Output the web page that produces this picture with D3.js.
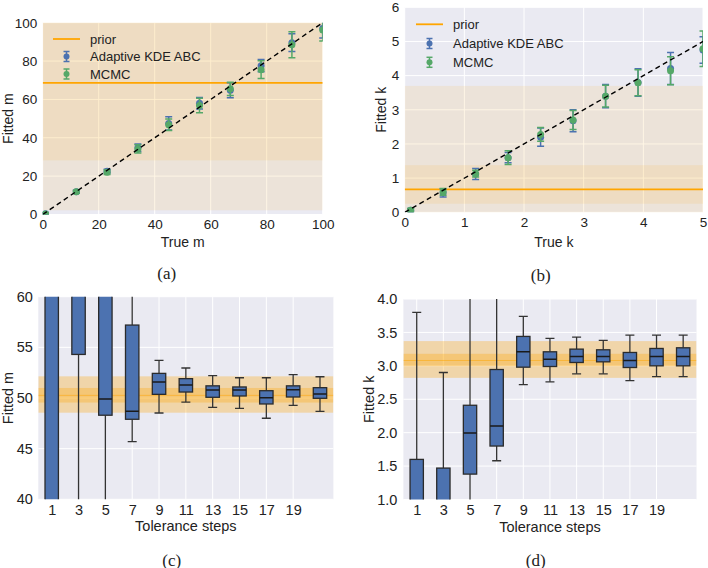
<!DOCTYPE html>
<html><head><meta charset="utf-8">
<script src="https://cdn.jsdelivr.net/npm/d3@7"></script>
<style>
body{margin:0;background:#fff}
text{font-family:"Liberation Sans",Arial,Helvetica,sans-serif;fill:#222}
</style>
</head><body>
<svg id="c" width="708" height="568"></svg>
<script>
// ---------- data ----------
const trueM = [1, 12, 23, 34, 45, 56, 67, 78, 89, 100];
const abcM = [0.4, 11.9, 22.6, 34.8, 47.5, 58.0, 64.8, 77.6, 89.6, 97.0];
const abcMErr = [0.6, 0.8, 1.0, 2.0, 3.5, 3.0, 3.9, 3.2, 4.6, 5.0];
const mcmcM = [0.3, 11.8, 22.0, 34.2, 46.8, 56.8, 65.5, 75.5, 88.5, 96.2];
const mcmcMErr = [0.6, 0.7, 1.2, 2.2, 3.0, 3.8, 3.4, 4.6, 6.8, 5.8];
const priorM = {mean: 68.6, inner: [28.2, 109], outer: [2.2, 135]};

const trueK = [0.1, 0.644, 1.189, 1.733, 2.278, 2.822, 3.367, 3.911, 4.456, 5.0];
const abcK = [0.06, 0.57, 1.12, 1.6, 2.2, 2.68, 3.4, 3.8, 4.21, 4.75];
const abcKErr = [0.05, 0.12, 0.16, 0.15, 0.27, 0.32, 0.34, 0.4, 0.47, 0.39];
const mcmcK = [0.06, 0.6, 1.13, 1.6, 2.28, 2.7, 3.4, 3.79, 4.14, 4.79];
const mcmcKErr = [0.05, 0.1, 0.1, 0.2, 0.2, 0.28, 0.32, 0.38, 0.41, 0.52];
const priorK = {mean: 0.67, inner: [0.25, 1.38], outer: [-0.5, 3.7]};

const stepLabels = [1, 3, 5, 7, 9, 11, 13, 15, 17, 19];
const boxPos = [1, 2, 3, 4, 5, 6, 7, 8, 9, 10, 11];
// fitted m boxes: [whiskerLow, q1, median, q3, whiskerHigh]
const boxesM = [
  [10, 25, 65, 95, 130],
  [20, 54.3, 66, 90, 120],
  [25, 48.3, 49.9, 70, 110],
  [45.7, 47.9, 48.7, 57.2, 75],
  [48.52, 50.36, 51.58, 52.43, 53.72],
  [49.6, 50.59, 51.28, 51.91, 52.96],
  [49.08, 50.07, 50.79, 51.2, 52.2],
  [48.98, 50.2, 50.79, 51.09, 52.0],
  [48.0, 49.41, 50.03, 50.72, 52.0],
  [49.28, 50.1, 50.82, 51.2, 52.3],
  [48.68, 49.97, 50.39, 51.02, 52.1]
];
const bandM = {mean: 50.26, inner: [49.55, 50.99], outer: [48.55, 52.14]};
const boxesK = [
  [0.1, 0.5, 0.9, 1.6, 3.8],
  [0.1, 0.5, 0.85, 1.47, 2.9],
  [0.5, 1.38, 1.995, 2.41, 4.5],
  [1.58, 1.80, 2.10, 2.945, 4.6],
  [2.72, 2.98, 3.21, 3.44, 3.74],
  [2.76, 2.99, 3.10, 3.21, 3.41],
  [2.88, 3.05, 3.14, 3.25, 3.43],
  [2.88, 3.06, 3.14, 3.24, 3.38],
  [2.78, 2.975, 3.08, 3.20, 3.46],
  [2.84, 3.0, 3.14, 3.26, 3.46],
  [2.84, 3.0, 3.14, 3.27, 3.46]
];
const bandK = {mean: 3.08, inner: [3.0, 3.18], outer: [2.82, 3.37]};

// ---------- drawing ----------
const svg = d3.select("#c");
const BG = "#EAEAF2", BLUE = "#4C72B0", GREEN = "#55A868", ORANGE = "#FFA500";

function panel(o) {
  const x = d3.scaleLinear().domain(o.xd).range([o.l, o.r]);
  const y = d3.scaleLinear().domain(o.yd).range([o.b, o.t]);
  const cid = "clip" + o.id;
  svg.append("clipPath").attr("id", cid).append("rect")
    .attr("x", o.l).attr("y", o.t).attr("width", o.r - o.l).attr("height", o.b - o.t);
  const root = svg.append("g");
  root.append("rect").attr("x", o.l).attr("y", o.t).attr("width", o.r - o.l).attr("height", o.b - o.t).attr("fill", BG);
  const grid = root.append("g");
  grid.selectAll("line.gx").data(o.xgrid).join("line")
    .attr("x1", d => x(d)).attr("x2", d => x(d)).attr("y1", o.t).attr("y2", o.b)
    .attr("stroke", "#fff").attr("stroke-width", 1);
  grid.selectAll("line.gy").data(o.yticks).join("line")
    .attr("y1", d => y(d)).attr("y2", d => y(d)).attr("x1", o.l).attr("x2", o.r)
    .attr("stroke", "#fff").attr("stroke-width", 1);
  const plot = root.append("g").attr("clip-path", `url(#${cid})`);
  // axes
  const ax = root.append("g").attr("transform", `translate(0,${o.b})`)
    .call(d3.axisBottom(x).tickValues(o.xticks).tickFormat(o.xfmt || (d => d)).tickSize(0).tickPadding(o.padX));
  const ay = root.append("g").attr("transform", `translate(${o.l},0)`)
    .call(d3.axisLeft(y).tickValues(o.yticks).tickFormat(o.yfmt || (d => d)).tickSize(0).tickPadding(o.padY));
  [ax, ay].forEach(a => {
    a.select(".domain").remove();
    a.selectAll("text").style("font-size", o.fs + "px").style("font-family", '"Liberation Sans",Arial,sans-serif').attr("fill", "#1e1e1e");
  });
  root.append("text").attr("x", (o.l + o.r) / 2).attr("y", o.xlY).attr("text-anchor", "middle")
    .attr("dominant-baseline", "central").style("font-size", o.lfs + "px").text(o.xlabel);
  root.append("text").attr("transform", `translate(${o.ylX},${(o.t + o.b) / 2}) rotate(-90)`)
    .attr("text-anchor", "middle").attr("dominant-baseline", "central").style("font-size", o.lfs + "px").text(o.ylabel);
  root.append("text").attr("x", o.capX).attr("y", o.capY).attr("text-anchor", "middle")
    .attr("dominant-baseline", "central").style("font-family", '"Liberation Serif","Times New Roman",serif')
    .style("font-size", "17px").text(o.caption);
  return {x, y, plot, root};
}

function bands(p, band, alpha, lineOpacity, lineW) {
  [band.outer, band.inner].forEach(b => {
    p.plot.append("rect").attr("x", p.x.range()[0]).attr("width", p.x.range()[1] - p.x.range()[0])
      .attr("y", p.y(b[1])).attr("height", p.y(b[0]) - p.y(b[1]))
      .attr("fill", ORANGE).attr("fill-opacity", alpha);
  });
  p.plot.append("line").attr("x1", p.x.range()[0]).attr("x2", p.x.range()[1])
    .attr("y1", p.y(band.mean)).attr("y2", p.y(band.mean))
    .attr("stroke", ORANGE).attr("stroke-opacity", lineOpacity).attr("stroke-width", lineW);
}

function errbars(p, xs, ys, es, color) {
  const g = p.plot.append("g");
  xs.forEach((xv, i) => {
    const cx = p.x(xv), y0 = p.y(ys[i] - es[i]), y1 = p.y(ys[i] + es[i]);
    g.append("line").attr("x1", cx).attr("x2", cx).attr("y1", y0).attr("y2", y1).attr("stroke", color).attr("stroke-width", 1.5);
    [y0, y1].forEach(yy => g.append("line").attr("x1", cx - 3.5).attr("x2", cx + 3.5).attr("y1", yy).attr("y2", yy)
      .attr("stroke", color).attr("stroke-width", 1.5));
    g.append("circle").attr("cx", cx).attr("cy", p.y(ys[i])).attr("r", 3.5).attr("fill", color);
  });
}

function legend(x0, ys, fs) {
  const g = svg.append("g");
  g.append("line").attr("x1", x0).attr("x2", x0 + 27).attr("y1", ys[0]).attr("y2", ys[0]).attr("stroke", ORANGE).attr("stroke-width", 1.8);
  [[BLUE, ys[1]], [GREEN, ys[2]]].forEach(([c, yy]) => {
    const cx = x0 + 13.5;
    g.append("line").attr("x1", cx).attr("x2", cx).attr("y1", yy - 5).attr("y2", yy + 5).attr("stroke", c).attr("stroke-width", 1.5);
    [yy - 5, yy + 5].forEach(v => g.append("line").attr("x1", cx - 3).attr("x2", cx + 3).attr("y1", v).attr("y2", v).attr("stroke", c).attr("stroke-width", 1.5));
    g.append("circle").attr("cx", cx).attr("cy", yy).attr("r", 3).attr("fill", c);
  });
  ["prior", "Adaptive KDE ABC", "MCMC"].forEach((t, i) => {
    g.append("text").attr("x", x0 + 37).attr("y", ys[i]).attr("dominant-baseline", "central")
      .style("font-size", fs + "px").text(t);
  });
}

function diag(p, lo, hi) {
  p.plot.append("line").attr("x1", p.x(lo)).attr("y1", p.y(lo)).attr("x2", p.x(hi)).attr("y2", p.y(hi))
    .attr("stroke", "#000").attr("stroke-width", 1.4).attr("stroke-dasharray", "5,3.5");
}

function boxes(p, data) {
  const w = p.x(1.25) - p.x(1);
  const cw = 4.5;
  data.forEach((b, i) => {
    const cx = p.x(boxPos[i]);
    const g = p.plot.append("g");
    g.append("line").attr("x1", cx).attr("x2", cx).attr("y1", p.y(b[0])).attr("y2", p.y(b[1])).attr("stroke", "#333").attr("stroke-width", 1.3);
    g.append("line").attr("x1", cx).attr("x2", cx).attr("y1", p.y(b[3])).attr("y2", p.y(b[4])).attr("stroke", "#333").attr("stroke-width", 1.3);
    [b[0], b[4]].forEach(v => g.append("line").attr("x1", cx - cw).attr("x2", cx + cw).attr("y1", p.y(v)).attr("y2", p.y(v)).attr("stroke", "#333").attr("stroke-width", 1.3));
    g.append("rect").attr("x", cx - w).attr("width", 2 * w).attr("y", p.y(b[3])).attr("height", p.y(b[1]) - p.y(b[3]))
      .attr("fill", BLUE).attr("stroke", "#2b2b2b").attr("stroke-width", 1.3);
    g.append("line").attr("x1", cx - w).attr("x2", cx + w).attr("y1", p.y(b[2])).attr("y2", p.y(b[2])).attr("stroke", "#1a1a1a").attr("stroke-width", 1.5);
  });
}

// (a)
const pa = panel({id: "a", l: 42.7, r: 322.7, t: 22.7, b: 214.5, xd: [0, 100], yd: [0, 100],
  xticks: [0, 20, 40, 60, 80, 100], xgrid: [0, 20, 40, 60, 80, 100], yticks: [0, 20, 40, 60, 80, 100],
  padX: 5, padY: 5.5, fs: 13.5, lfs: 14, xlabel: "True m", ylabel: "Fitted m", xlY: 241.5, ylX: 8,
  caption: "(a)", capX: 166.7, capY: 273});
bands(pa, priorM, 0.1, 1, 1.8);
errbars(pa, trueM, abcM, abcMErr, BLUE);
errbars(pa, trueM, mcmcM, mcmcMErr, GREEN);
diag(pa, 0, 100);
legend(53, [39, 56.5, 74], 13);

// (b)
const pb = panel({id: "b", l: 404.7, r: 703, t: 7.3, b: 212.3, xd: [0, 5], yd: [0, 6],
  xticks: [0, 1, 2, 3, 4, 5], xgrid: [0, 1, 2, 3, 4, 5], yticks: [0, 1, 2, 3, 4, 5, 6],
  padX: 5, padY: 5.5, fs: 13.5, lfs: 14, xlabel: "True k", ylabel: "Fitted k", xlY: 241.5, ylX: 381,
  caption: "(b)", capX: 540.7, capY: 275});
bands(pb, priorK, 0.1, 1, 1.8);
errbars(pb, trueK, abcK, abcKErr, BLUE);
errbars(pb, trueK, mcmcK, mcmcKErr, GREEN);
diag(pb, 0, 5);
legend(416, [24.3, 43.5, 62.3], 13);

// (c)
const pc = panel({id: "c", l: 38.3, r: 333.4, t: 296.7, b: 499.3, xd: [0.5, 11.5], yd: [40, 60],
  xticks: boxPos.slice(0, 10), xgrid: boxPos.slice(0, 10), xfmt: (d, i) => stepLabels[i], yticks: [40, 45, 50, 55, 60],
  padX: 5, padY: 5.5, fs: 14.5, lfs: 14.5, xlabel: "Tolerance steps", ylabel: "Fitted m", xlY: 526, ylX: 8,
  caption: "(c)", capX: 171.7, capY: 560});
bands(pc, bandM, 0.3, 0.5, 1);
boxes(pc, boxesM);

// (d)
const pd = panel({id: "d", l: 403.4, r: 696.5, t: 299, b: 499.5, xd: [0.5, 11.5], yd: [1, 4],
  xticks: boxPos.slice(0, 10), xgrid: boxPos.slice(0, 10), xfmt: (d, i) => stepLabels[i], yticks: [1, 1.5, 2, 2.5, 3, 3.5, 4],
  yfmt: d3.format(".1f"),
  padX: 5, padY: 6, fs: 14.5, lfs: 14.5, xlabel: "Tolerance steps", ylabel: "Fitted k", xlY: 526.5, ylX: 369,
  caption: "(d)", capX: 535.7, capY: 560});
bands(pd, bandK, 0.3, 0.5, 1);
boxes(pd, boxesK);
</script>
</body></html>
